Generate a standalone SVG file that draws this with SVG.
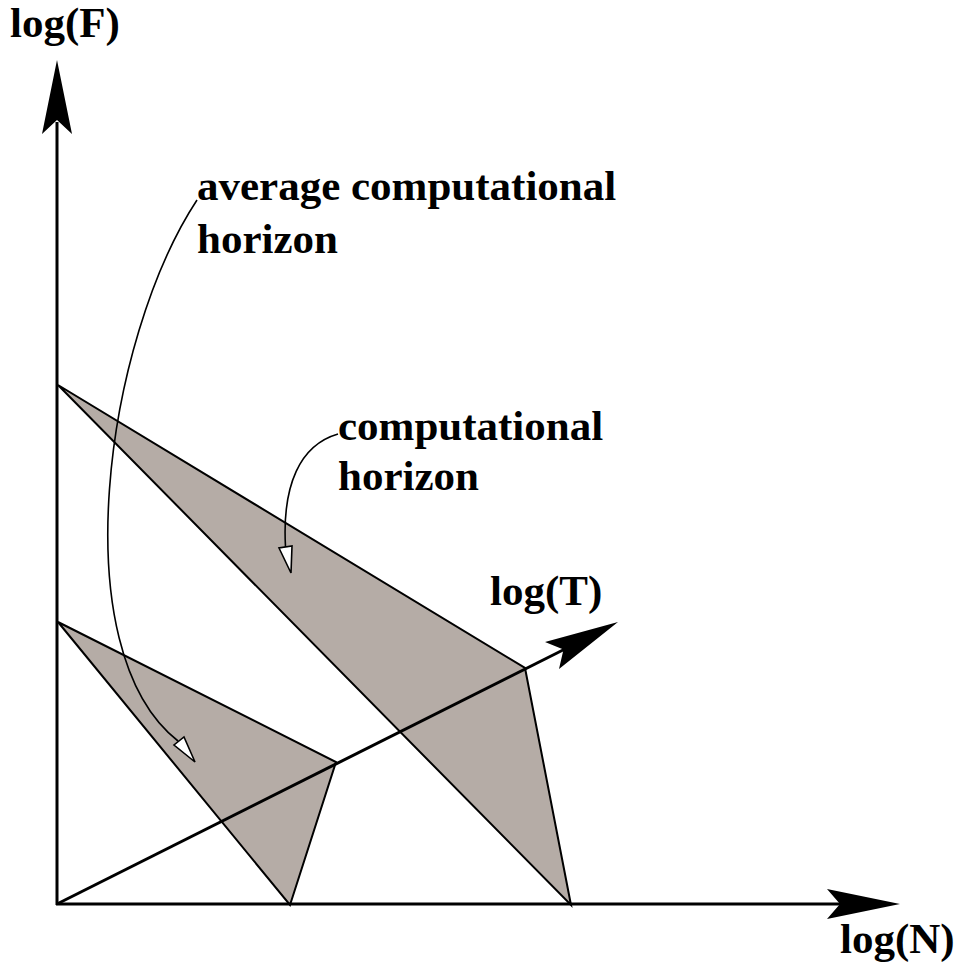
<svg xmlns="http://www.w3.org/2000/svg" width="966" height="962" viewBox="0 0 966 962">
<style>
.lbl{font-family:"Liberation Serif","Times New Roman",serif;font-weight:bold;font-size:43px;fill:#000}
.region{fill:#b5aca6;stroke:#000;stroke-width:2;stroke-linejoin:miter}
.axis{stroke:#000;stroke-width:3;fill:none}
.head{fill:#000;stroke:none}
.callout{fill:none;stroke:#000;stroke-width:1.6}
.open{fill:#fff;stroke:#000;stroke-width:1.6}
</style>
<rect width="966" height="962" fill="#fff"/>
<g id="horizon-large"><polygon class="region" points="58,385 525,668 571,905"/></g>
<g id="horizon-small"><polygon class="region" points="58,622 336,762 290,905"/></g>
<g id="connectors">
<line class="axis" x1="57" y1="905" x2="57" y2="122"/>
<polygon class="head" points="57,60 72,134 57,120 42,134"/>
<line class="axis" x1="56" y1="904" x2="842" y2="904"/>
<polygon class="head" points="900,904 827,919 840,904 827,889"/>
<line class="axis" x1="57" y1="904" x2="565" y2="649"/>
<polygon class="head" points="618,622 559,669 563.5,649.4 545,642"/>
<path class="callout" d="M197,200 C105,340 62,650 178,741"/>
<polygon class="open" points="195,762 174,745 184,737"/>
<path class="callout" d="M338,434 C300,445 282,485 285.5,547"/>
<polygon class="open" points="291,573 279,548 292,546"/>
</g>
<g id="label-F"><text class="lbl" x="10" y="37">log(F)</text></g>
<g id="label-N"><text class="lbl" x="840" y="953">log(N)</text></g>
<g id="label-T"><text class="lbl" x="490" y="605">log(T)</text></g>
<g id="label-avg"><text class="lbl" x="197" y="200">average computational</text><text class="lbl" x="197" y="253">horizon</text></g>
<g id="label-comp"><text class="lbl" x="338" y="440">computational</text><text class="lbl" x="338" y="490">horizon</text></g>
</svg>
